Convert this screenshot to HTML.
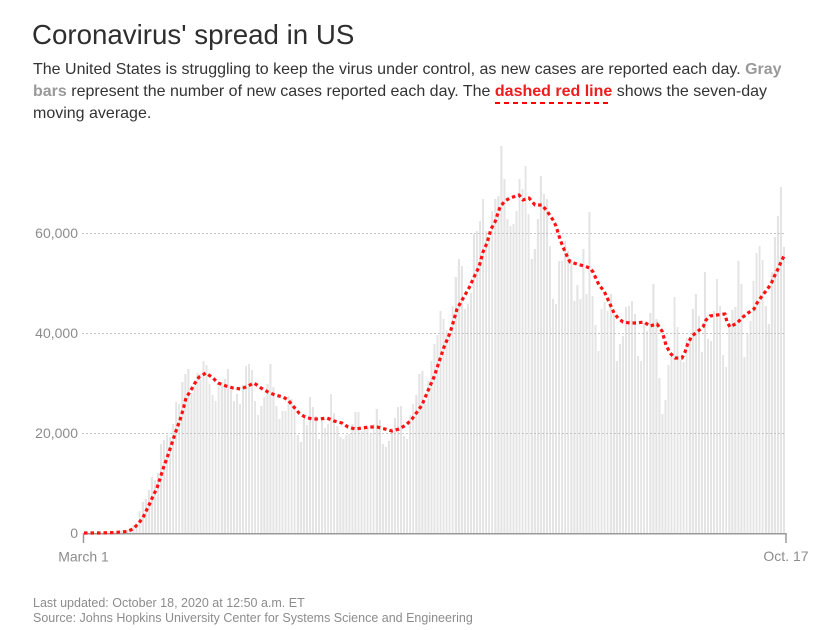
<!DOCTYPE html>
<html><head><meta charset="utf-8"><title>Coronavirus' spread in US</title><style>
html,body{margin:0;padding:0;background:#fff;}
body{width:835px;height:630px;position:relative;overflow:hidden;font-family:"Liberation Sans",Arial,sans-serif;}
h1{position:absolute;left:32px;top:21px;margin:0;font-size:27.7px;line-height:28px;font-weight:normal;color:#2e2e2e;white-space:nowrap;}
.p{position:absolute;left:33px;top:58.7px;font-size:16px;line-height:22px;color:#333;white-space:nowrap;}
.g{color:#999;font-weight:bold;}
.r{color:#ee1c1c;font-weight:bold;padding-bottom:4px;background:repeating-linear-gradient(90deg,#f00 0 5px,transparent 5px 9px) left bottom/100% 2px no-repeat;}
.bars{position:absolute;left:84px;top:133px;width:693px;height:400.5px;display:flex;align-items:flex-end;transform:scaleX(1.012987);transform-origin:0 0;}
.bars i{flex:0 0 3px;width:3px;display:block;background:linear-gradient(90deg,#e4e4e4 0 2px,#fff 2px 3px);}
svg{position:absolute;left:0;top:0;}
.f{position:absolute;left:33px;top:596.4px;font-size:12.5px;line-height:15px;color:#8c8c8c;white-space:nowrap;}
</style></head><body>
<h1>Coronavirus' spread in US</h1>
<div class="p">The United States is struggling to keep the virus under control, as new cases are reported each day. <span class="g">Gray</span><br><span class="g">bars</span> represent the number of new cases reported each day. The <span class="r">dashed red line</span> shows the seven-day<br>moving average.</div>
<div class="bars">
<i style="height:0px"></i><i style="height:0.1px"></i><i style="height:0.1px"></i><i style="height:0.2px"></i><i style="height:0.4px"></i><i style="height:0.3px"></i><i style="height:0.7px"></i><i style="height:0.6px"></i><i style="height:0.4px"></i><i style="height:1.9px"></i><i style="height:1.6px"></i><i style="height:1.9px"></i><i style="height:2.6px"></i><i style="height:2.8px"></i><i style="height:3.9px"></i><i style="height:5.7px"></i><i style="height:9px"></i><i style="height:6.8px"></i><i style="height:22.5px"></i><i style="height:32px"></i><i style="height:35px"></i><i style="height:43.5px"></i><i style="height:56.5px"></i><i style="height:53.5px"></i><i style="height:60.5px"></i><i style="height:89.5px"></i><i style="height:93.5px"></i><i style="height:98.5px"></i><i style="height:96.5px"></i><i style="height:110px"></i><i style="height:131.5px"></i>
<i style="height:130px"></i><i style="height:151.5px"></i><i style="height:160px"></i><i style="height:165px"></i><i style="height:141px"></i><i style="height:148px"></i><i style="height:160.5px"></i><i style="height:160px"></i><i style="height:172.5px"></i><i style="height:168.5px"></i><i style="height:149.5px"></i><i style="height:139px"></i><i style="height:133px"></i><i style="height:147.5px"></i><i style="height:151.5px"></i><i style="height:155px"></i><i style="height:165px"></i><i style="height:143.5px"></i><i style="height:132.5px"></i><i style="height:139.5px"></i><i style="height:130px"></i><i style="height:149px"></i><i style="height:167.5px"></i><i style="height:170px"></i><i style="height:164px"></i><i style="height:132.5px"></i><i style="height:119px"></i><i style="height:128px"></i><i style="height:137px"></i><i style="height:150px"></i>
<i style="height:169.5px"></i><i style="height:147px"></i><i style="height:127.5px"></i><i style="height:115px"></i><i style="height:122.5px"></i><i style="height:123px"></i><i style="height:138px"></i><i style="height:135px"></i><i style="height:127px"></i><i style="height:98.5px"></i><i style="height:92px"></i><i style="height:114.5px"></i><i style="height:109px"></i><i style="height:136.5px"></i><i style="height:127px"></i><i style="height:117.5px"></i><i style="height:94.5px"></i><i style="height:113px"></i><i style="height:105.5px"></i><i style="height:110px"></i><i style="height:140px"></i><i style="height:121px"></i><i style="height:107.5px"></i><i style="height:97px"></i><i style="height:94.5px"></i><i style="height:98.5px"></i><i style="height:99.5px"></i><i style="height:109.5px"></i><i style="height:122px"></i><i style="height:121.5px"></i><i style="height:103px"></i>
<i style="height:105px"></i><i style="height:107px"></i><i style="height:100px"></i><i style="height:110px"></i><i style="height:124.5px"></i><i style="height:113.5px"></i><i style="height:90px"></i><i style="height:86.5px"></i><i style="height:93px"></i><i style="height:105.5px"></i><i style="height:115.5px"></i><i style="height:127px"></i><i style="height:128px"></i><i style="height:98px"></i><i style="height:95px"></i><i style="height:118.5px"></i><i style="height:130px"></i><i style="height:139px"></i><i style="height:159.5px"></i><i style="height:162.5px"></i><i style="height:130px"></i><i style="height:152.5px"></i><i style="height:173px"></i><i style="height:190px"></i><i style="height:199px"></i><i style="height:223px"></i><i style="height:215px"></i><i style="height:204px"></i><i style="height:200px"></i><i style="height:228px"></i>
<i style="height:257px"></i><i style="height:275px"></i><i style="height:267.5px"></i><i style="height:225px"></i><i style="height:230px"></i><i style="height:240.5px"></i><i style="height:300px"></i><i style="height:302.5px"></i><i style="height:312.5px"></i><i style="height:335px"></i><i style="height:302.5px"></i><i style="height:296.5px"></i><i style="height:323px"></i><i style="height:334.5px"></i><i style="height:337.5px"></i><i style="height:388px"></i><i style="height:355px"></i><i style="height:315px"></i><i style="height:307.5px"></i><i style="height:310px"></i><i style="height:322.5px"></i><i style="height:355px"></i><i style="height:345px"></i><i style="height:367.5px"></i><i style="height:320px"></i><i style="height:275px"></i><i style="height:285px"></i><i style="height:315px"></i><i style="height:357.5px"></i><i style="height:340px"></i><i style="height:335px"></i>
<i style="height:287.5px"></i><i style="height:235px"></i><i style="height:230px"></i><i style="height:272.5px"></i><i style="height:272.5px"></i><i style="height:292.5px"></i><i style="height:282.5px"></i><i style="height:275px"></i><i style="height:232.5px"></i><i style="height:248.5px"></i><i style="height:235px"></i><i style="height:285px"></i><i style="height:240px"></i><i style="height:321.5px"></i><i style="height:237.5px"></i><i style="height:208.5px"></i><i style="height:182.5px"></i><i style="height:225px"></i><i style="height:231.5px"></i><i style="height:222.5px"></i><i style="height:240px"></i><i style="height:220px"></i><i style="height:172.5px"></i><i style="height:190px"></i><i style="height:197.5px"></i><i style="height:226.5px"></i><i style="height:227.5px"></i><i style="height:232.5px"></i><i style="height:219.5px"></i><i style="height:177.5px"></i><i style="height:172.5px"></i>
<i style="height:210.5px"></i><i style="height:202.5px"></i><i style="height:221px"></i><i style="height:250px"></i><i style="height:215px"></i><i style="height:156px"></i><i style="height:120px"></i><i style="height:133.5px"></i><i style="height:169px"></i><i style="height:178px"></i><i style="height:237px"></i><i style="height:206.5px"></i><i style="height:174px"></i><i style="height:171.5px"></i><i style="height:196px"></i><i style="height:196px"></i><i style="height:224.5px"></i><i style="height:240px"></i><i style="height:217.5px"></i><i style="height:181.5px"></i><i style="height:261.5px"></i><i style="height:195px"></i><i style="height:193px"></i><i style="height:222.5px"></i><i style="height:255px"></i><i style="height:227.5px"></i><i style="height:179px"></i><i style="height:166.5px"></i><i style="height:211px"></i><i style="height:224px"></i>
<i style="height:226.5px"></i><i style="height:272.5px"></i><i style="height:250px"></i><i style="height:176.5px"></i><i style="height:200px"></i><i style="height:212.5px"></i><i style="height:252.5px"></i><i style="height:281px"></i><i style="height:287.5px"></i><i style="height:274px"></i><i style="height:227.5px"></i><i style="height:210px"></i><i style="height:261.5px"></i><i style="height:296.5px"></i><i style="height:318px"></i><i style="height:346.5px"></i><i style="height:287px"></i>
</div>
<svg width="835" height="630" viewBox="0 0 835 630" xmlns="http://www.w3.org/2000/svg">
<g stroke="#c4c4c4" stroke-width="1" stroke-dasharray="2 2" fill="none">
<line x1="82" y1="233.5" x2="786" y2="233.5"/>
<line x1="82" y1="333.5" x2="786" y2="333.5"/>
<line x1="82" y1="433.5" x2="786" y2="433.5"/>
</g>
<g stroke="#9a9a9a" stroke-width="1.5" fill="none">
<line x1="83" y1="533.75" x2="786.5" y2="533.75"/>
<line x1="83.5" y1="533" x2="83.5" y2="543"/>
<line x1="786" y1="533" x2="786" y2="543"/>
</g>
<g font-family="Liberation Sans, Arial, sans-serif" font-size="14" fill="#8c8c8c">
<text x="78" y="238" text-anchor="end">60,000</text>
<text x="78" y="338" text-anchor="end">40,000</text>
<text x="78" y="438" text-anchor="end">20,000</text>
<text x="78" y="538" text-anchor="end">0</text>
<text x="83.5" y="561.5" text-anchor="middle">March 1</text>
<text x="786" y="561" text-anchor="middle">Oct. 17</text>
</g>
<polyline fill="none" stroke="#ff1212" stroke-width="3.2" stroke-dasharray="3.5 3" stroke-linejoin="round" points="84,533 100,533 115,532.5 127,531.5 133,529 138,524 143,517.5 150,503 153,496 157,488 164,466 167,458 172,443 177,428 180,420 183,410 186,398 191,390 195,383 199,377 206,373 213,378 218,383 226,386 233,388 241,389 248,386 254,383 261,388 268,392 275,395 283,397 288,400 293,406 299,413 305,417 312,419 320,419 327,418 334,421 342,423 348,427 355,429 362,428 369,427 377,427 385,429 392,431 399,429 406,425 412,419 417,412 422,405 427,393 434,377 439,362 444,347 450,333 453,323 457,309 461,302 465,295 469,288 475,275 479,267 483,252 487,243 491,229 495,222 500,207 505,201 510,198 519,195 523,200 529,198 535,205 542,205 547,211 553,220 556,226 560,239 563,247 567,256 570,262 577,264 584,266 590,268 593,272 599,285 604,291 610,304 614,313 618,318 623,322 630,323 637,323 644,322 650,326 657,324 662,331 666,345 670,353 675,358 682,358 685,352 688,343 692,336 697,332 703,327 706,320 710,316 717,315 725,314 727,322 730,327 737,323 743,317 748,313 754,309 757,303 762,296 766,291 771,284 774,277 778,269 781,262 784,256 786,255"/>
</svg>
<div class="f">Last updated: October 18, 2020 at 12:50 a.m. ET<br>Source: Johns Hopkins University Center for Systems Science and Engineering</div>
</body></html>
